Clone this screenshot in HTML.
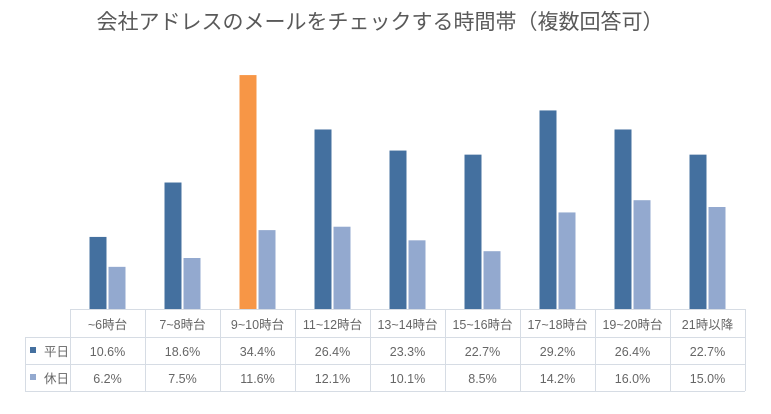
<!DOCTYPE html>
<html><head><meta charset="utf-8"><style>
body{margin:0;background:#fff;}
svg text{font-family:"Liberation Sans","Noto Sans CJK JP",sans-serif;}
</style></head><body>
<svg width="771" height="409" xmlns="http://www.w3.org/2000/svg">
<rect width="771" height="409" fill="#fff"/>
<text x="380" y="29" font-size="21" fill="#595959" text-anchor="middle">会社アドレスのメールをチェックする時間帯（複数回答可）</text>
<g stroke="#d6dce4" stroke-width="1" fill="none">
<line x1="70" y1="309.5" x2="745" y2="309.5"/>
<line x1="25" y1="337.5" x2="745" y2="337.5"/>
<line x1="25" y1="364.5" x2="745" y2="364.5"/>
<line x1="25" y1="391.5" x2="745" y2="391.5"/>
<line x1="25.5" y1="337" x2="25.5" y2="391"/>
</g>
<g font-size="12.5" fill="#666">
<rect x="30" y="347" width="6" height="6" fill="#44709f"/>
<text x="44" y="356">平日</text>
<rect x="30" y="374" width="6" height="6" fill="#93a9cf"/>
<text x="44" y="383">休日</text>
</g>
<script>
var cats=["~6時台","7~8時台","9~10時台","11~12時台","13~14時台","15~16時台","17~18時台","19~20時台","21時以降"];
var a=[10.6,18.6,34.4,26.4,23.3,22.7,29.2,26.4,22.7];
var b=[6.2,7.5,11.6,12.1,10.1,8.5,14.2,16.0,15.0];
var ns="http://www.w3.org/2000/svg";
var svg=document.querySelector("svg");
function el(t,at,txt){var e=document.createElementNS(ns,t);for(var k in at)e.setAttribute(k,at[k]);if(txt)e.textContent=txt;svg.appendChild(e);return e;}
var base=309,s=6.8;
for(var i=0;i<9;i++){
 var cx=70+75*i+37.5;
 var h=a[i]*s; el("rect",{x:cx-18,y:base-h,width:17,height:h,fill:i==2?"#f79646":"#44709f"});
 h=b[i]*s; el("rect",{x:cx+1,y:base-h,width:17,height:h,fill:"#93a9cf"});
 var x=70+75*i+0.5; el("line",{x1:x,y1:309,x2:x,y2:391,stroke:"#d6dce4"});
 el("text",{x:cx,y:329,"font-size":12.5,fill:"#666","text-anchor":"middle"},cats[i]);
 el("text",{x:cx,y:356,"font-size":12.5,fill:"#666","text-anchor":"middle"},a[i].toFixed(1)+"%");
 el("text",{x:cx,y:383,"font-size":12.5,fill:"#666","text-anchor":"middle"},b[i].toFixed(1)+"%");
}
el("line",{x1:745.5,y1:309,x2:745.5,y2:391,stroke:"#d6dce4"});
</script>
</svg>
</body></html>
